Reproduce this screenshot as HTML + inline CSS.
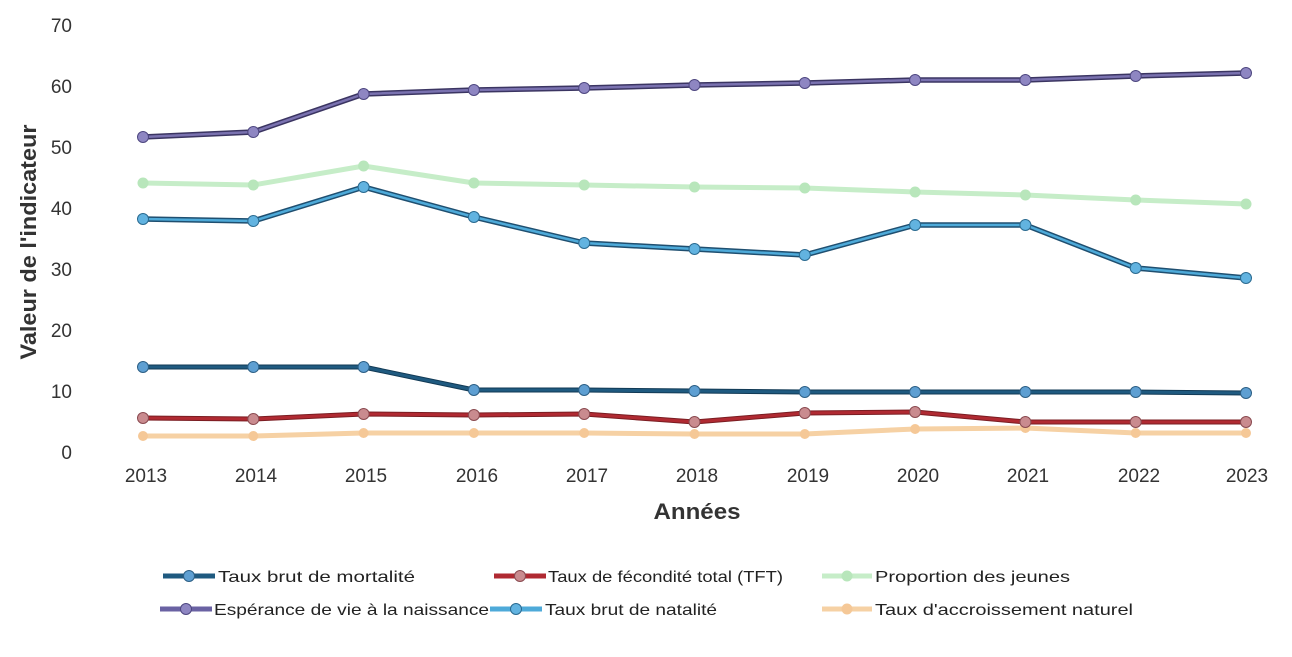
<!DOCTYPE html>
<html><head><meta charset="utf-8"><style>
html,body{margin:0;padding:0;background:#fff;}
svg{display:block;}
.tk{font-family:"Liberation Sans",sans-serif;font-size:19px;fill:#333;}
.lg{font-family:"Liberation Sans",sans-serif;font-size:16px;fill:#222;}
.ti{font-family:"Liberation Sans",sans-serif;font-weight:bold;font-size:22px;fill:#333;}
</style></head><body>
<svg width="1292" height="657" viewBox="0 0 1292 657" xmlns="http://www.w3.org/2000/svg">
<rect width="1292" height="657" fill="#fff"/>
<g class="tk" text-anchor="end">
<text x="72" y="32">70</text>
<text x="72" y="93">60</text>
<text x="72" y="154">50</text>
<text x="72" y="215">40</text>
<text x="72" y="276">30</text>
<text x="72" y="337">20</text>
<text x="72" y="398">10</text>
<text x="72" y="459">0</text>
</g>
<g class="tk" text-anchor="middle">
<text x="146" y="482">2013</text>
<text x="256" y="482">2014</text>
<text x="366" y="482">2015</text>
<text x="477" y="482">2016</text>
<text x="587" y="482">2017</text>
<text x="697" y="482">2018</text>
<text x="808" y="482">2019</text>
<text x="918" y="482">2020</text>
<text x="1028" y="482">2021</text>
<text x="1139" y="482">2022</text>
<text x="1247" y="482">2023</text>
</g>
<text class="ti" x="697" y="519" text-anchor="middle" textLength="87" lengthAdjust="spacingAndGlyphs">Années</text>
<text class="ti" transform="translate(36,242) rotate(-90)" x="0" y="0" text-anchor="middle" textLength="235" lengthAdjust="spacingAndGlyphs">Valeur de l'indicateur</text>

<polyline fill="none" stroke="#123a55" stroke-width="5" stroke-linejoin="round" points="143,367 253.3,367 363.6,367 473.9,390 584.2,390 694.5,391 804.8,392 915.1,392 1025.4,392 1135.7,392 1246,393"/>
<polyline fill="none" stroke="#1f5a80" stroke-width="3" stroke-linejoin="round" points="143,367 253.3,367 363.6,367 473.9,390 584.2,390 694.5,391 804.8,392 915.1,392 1025.4,392 1135.7,392 1246,393"/>
<g fill="#5e9fd2" stroke="#2c5f85" stroke-width="1">
<circle cx="143" cy="367" r="5.5"/><circle cx="253.3" cy="367" r="5.5"/><circle cx="363.6" cy="367" r="5.5"/><circle cx="473.9" cy="390" r="5.5"/><circle cx="584.2" cy="390" r="5.5"/><circle cx="694.5" cy="391" r="5.5"/><circle cx="804.8" cy="392" r="5.5"/><circle cx="915.1" cy="392" r="5.5"/><circle cx="1025.4" cy="392" r="5.5"/><circle cx="1135.7" cy="392" r="5.5"/><circle cx="1246" cy="393" r="5.5"/>
</g>
<polyline fill="none" stroke="#f6d1a4" stroke-width="5" stroke-linejoin="round" points="143,436 253.3,436 363.6,433 473.9,433 584.2,433 694.5,434 804.8,434 915.1,429 1025.4,428 1135.7,433 1246,433"/>
<g fill="#f5c897">
<circle cx="143" cy="436" r="5"/><circle cx="253.3" cy="436" r="5"/><circle cx="363.6" cy="433" r="5"/><circle cx="473.9" cy="433" r="5"/><circle cx="584.2" cy="433" r="5"/><circle cx="694.5" cy="434" r="5"/><circle cx="804.8" cy="434" r="5"/><circle cx="915.1" cy="429" r="5"/><circle cx="1025.4" cy="428" r="5"/><circle cx="1135.7" cy="433" r="5"/><circle cx="1246" cy="433" r="5"/>
</g>
<polyline fill="none" stroke="#7a1d22" stroke-width="5" stroke-linejoin="round" points="143,418 253.3,419 363.6,414 473.9,415 584.2,414 694.5,422 804.8,413 915.1,412 1025.4,422 1135.7,422 1246,422"/>
<polyline fill="none" stroke="#b02a32" stroke-width="3" stroke-linejoin="round" points="143,418 253.3,419 363.6,414 473.9,415 584.2,414 694.5,422 804.8,413 915.1,412 1025.4,422 1135.7,422 1246,422"/>
<g fill="#c98b8f" stroke="#8a4a50" stroke-width="1">
<circle cx="143" cy="418" r="5.5"/><circle cx="253.3" cy="419" r="5.5"/><circle cx="363.6" cy="414" r="5.5"/><circle cx="473.9" cy="415" r="5.5"/><circle cx="584.2" cy="414" r="5.5"/><circle cx="694.5" cy="422" r="5.5"/><circle cx="804.8" cy="413" r="5.5"/><circle cx="915.1" cy="412" r="5.5"/><circle cx="1025.4" cy="422" r="5.5"/><circle cx="1135.7" cy="422" r="5.5"/><circle cx="1246" cy="422" r="5.5"/>
</g>
<polyline fill="none" stroke="#c6edc8" stroke-width="5" stroke-linejoin="round" points="143,183 253.3,185 363.6,166 473.9,183 584.2,185 694.5,187 804.8,188 915.1,192 1025.4,195 1135.7,200 1246,204"/>
<g fill="#b8e6bb">
<circle cx="143" cy="183" r="5.5"/><circle cx="253.3" cy="185" r="5.5"/><circle cx="363.6" cy="166" r="5.5"/><circle cx="473.9" cy="183" r="5.5"/><circle cx="584.2" cy="185" r="5.5"/><circle cx="694.5" cy="187" r="5.5"/><circle cx="804.8" cy="188" r="5.5"/><circle cx="915.1" cy="192" r="5.5"/><circle cx="1025.4" cy="195" r="5.5"/><circle cx="1135.7" cy="200" r="5.5"/><circle cx="1246" cy="204" r="5.5"/>
</g>
<polyline fill="none" stroke="#3b3562" stroke-width="5.5" stroke-linejoin="round" points="143,137 253.3,132 363.6,94 473.9,90 584.2,88 694.5,85 804.8,83 915.1,80 1025.4,80 1135.7,76 1246,73"/>
<polyline fill="none" stroke="#7a72b0" stroke-width="2.5" stroke-linejoin="round" points="143,137 253.3,132 363.6,94 473.9,90 584.2,88 694.5,85 804.8,83 915.1,80 1025.4,80 1135.7,76 1246,73"/>
<g fill="#8e86c2" stroke="#4e4780" stroke-width="1">
<circle cx="143" cy="137" r="5.5"/><circle cx="253.3" cy="132" r="5.5"/><circle cx="363.6" cy="94" r="5.5"/><circle cx="473.9" cy="90" r="5.5"/><circle cx="584.2" cy="88" r="5.5"/><circle cx="694.5" cy="85" r="5.5"/><circle cx="804.8" cy="83" r="5.5"/><circle cx="915.1" cy="80" r="5.5"/><circle cx="1025.4" cy="80" r="5.5"/><circle cx="1135.7" cy="76" r="5.5"/><circle cx="1246" cy="73" r="5.5"/>
</g>
<polyline fill="none" stroke="#1f4f70" stroke-width="5.5" stroke-linejoin="round" points="143,219 253.3,221 363.6,187 473.9,217 584.2,243 694.5,249 804.8,255 915.1,225 1025.4,225 1135.7,268 1246,278"/>
<polyline fill="none" stroke="#4eaad9" stroke-width="2.5" stroke-linejoin="round" points="143,219 253.3,221 363.6,187 473.9,217 584.2,243 694.5,249 804.8,255 915.1,225 1025.4,225 1135.7,268 1246,278"/>
<g fill="#62b3e0" stroke="#2a6a90" stroke-width="1">
<circle cx="143" cy="219" r="5.5"/><circle cx="253.3" cy="221" r="5.5"/><circle cx="363.6" cy="187" r="5.5"/><circle cx="473.9" cy="217" r="5.5"/><circle cx="584.2" cy="243" r="5.5"/><circle cx="694.5" cy="249" r="5.5"/><circle cx="804.8" cy="255" r="5.5"/><circle cx="915.1" cy="225" r="5.5"/><circle cx="1025.4" cy="225" r="5.5"/><circle cx="1135.7" cy="268" r="5.5"/><circle cx="1246" cy="278" r="5.5"/>
</g>

<line x1="163" y1="576" x2="215" y2="576" stroke="#1f5a80" stroke-width="5"/>
<circle cx="189" cy="576" r="5.5" fill="#5e9fd2" stroke="#2c5f85"/>
<text class="lg" x="218" y="582" textLength="197" lengthAdjust="spacingAndGlyphs">Taux brut de mortalité</text>

<line x1="494" y1="576" x2="546" y2="576" stroke="#b02a32" stroke-width="5"/>
<circle cx="520" cy="576" r="5.5" fill="#c98b8f" stroke="#8a4a50"/>
<text class="lg" x="548" y="582" textLength="235" lengthAdjust="spacingAndGlyphs">Taux de fécondité total (TFT)</text>

<line x1="822" y1="576" x2="872" y2="576" stroke="#c6edc8" stroke-width="5"/>
<circle cx="847" cy="576" r="5.5" fill="#b8e6bb"/>
<text class="lg" x="875" y="582" textLength="195" lengthAdjust="spacingAndGlyphs">Proportion des jeunes</text>

<line x1="160" y1="609" x2="212" y2="609" stroke="#6a62a3" stroke-width="5"/>
<circle cx="186" cy="609" r="5.5" fill="#8e86c2" stroke="#4e4780"/>
<text class="lg" x="214" y="615" textLength="275" lengthAdjust="spacingAndGlyphs">Espérance de vie à la naissance</text>

<line x1="490" y1="609" x2="542" y2="609" stroke="#4eaad9" stroke-width="5"/>
<circle cx="516" cy="609" r="5.5" fill="#62b3e0" stroke="#2a6a90"/>
<text class="lg" x="545" y="615" textLength="172" lengthAdjust="spacingAndGlyphs">Taux brut de natalité</text>

<line x1="822" y1="609" x2="872" y2="609" stroke="#f6d1a4" stroke-width="5"/>
<circle cx="847" cy="609" r="5.5" fill="#f5c897"/>
<text class="lg" x="875" y="615" textLength="258" lengthAdjust="spacingAndGlyphs">Taux d'accroissement naturel</text>
</svg>
</body></html>
